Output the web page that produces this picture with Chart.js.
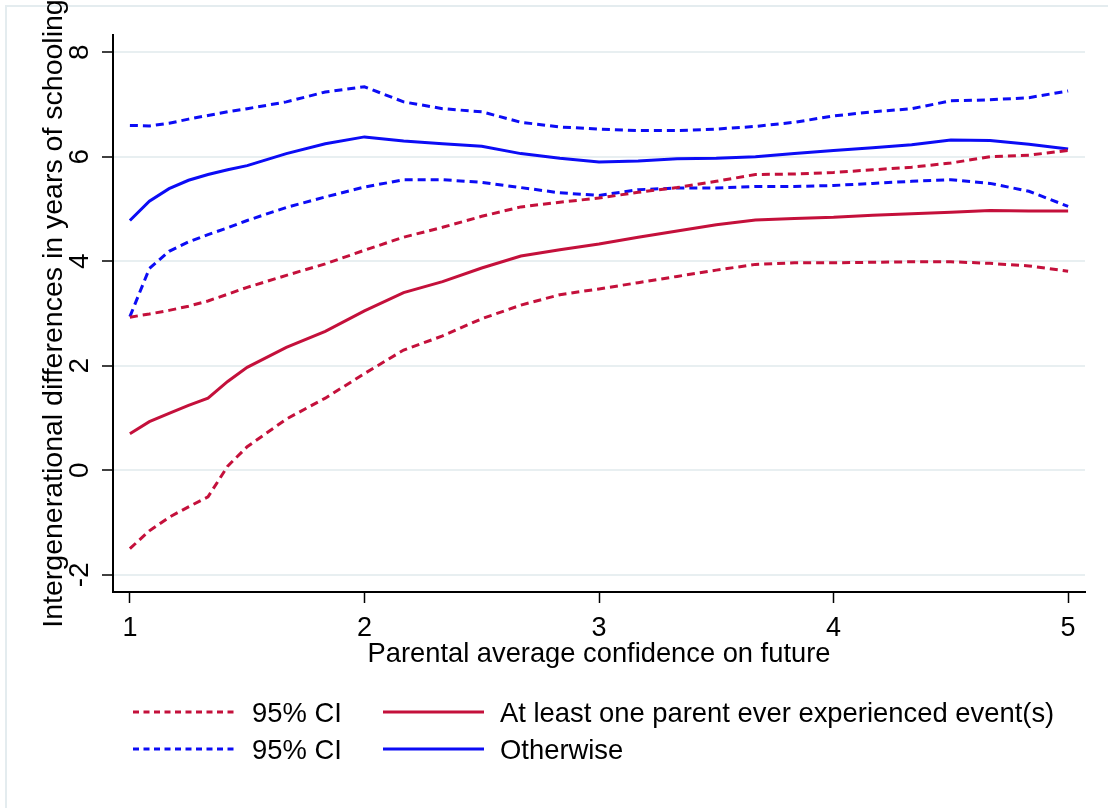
<!DOCTYPE html>
<html>
<head>
<meta charset="utf-8">
<script src="https://cdn.jsdelivr.net/npm/chart.js@4.4.0/dist/chart.umd.min.js"></script>
<style>
  html, body { margin: 0; padding: 0; background: #fff; }
  #wrap { width: 1108px; height: 808px; }
</style>
</head>
<body>
<div id="wrap"><canvas id="chart" width="1108" height="808"></canvas></div>
<script>
// parental average confidence (x values of the smoothed curves)
const confidence = [1, 1.083, 1.167, 1.25, 1.333, 1.417, 1.5, 1.667, 1.833, 2, 2.167, 2.333, 2.5, 2.667,
  2.833, 3, 3.167, 3.333, 3.5, 3.667, 3.833, 4, 4.167, 4.333, 4.5, 4.667, 4.833, 5];

// at least one parent ever experienced event(s)
const eventMid = [0.70, 0.93, 1.09, 1.24, 1.38, 1.70, 1.97, 2.35, 2.66, 3.05, 3.40, 3.61, 3.87, 4.10,
  4.22, 4.33, 4.46, 4.58, 4.70, 4.79, 4.82, 4.84, 4.88, 4.91, 4.94, 4.97, 4.96, 4.96];
const eventLow = [-1.50, -1.16, -0.90, -0.70, -0.51, 0.08, 0.45, 0.98, 1.38, 1.85, 2.30, 2.57, 2.90, 3.16,
  3.36, 3.47, 3.59, 3.71, 3.83, 3.94, 3.97, 3.97, 3.98, 3.99, 3.99, 3.96, 3.91, 3.81];
const eventHigh = [2.93, 2.99, 3.06, 3.14, 3.24, 3.37, 3.50, 3.73, 3.95, 4.21, 4.46, 4.65, 4.86, 5.04,
  5.13, 5.21, 5.32, 5.41, 5.53, 5.66, 5.67, 5.70, 5.75, 5.80, 5.88, 6.00, 6.03, 6.12];

// otherwise
const otherMid = [4.78, 5.15, 5.39, 5.55, 5.66, 5.75, 5.83, 6.06, 6.25, 6.38, 6.30, 6.25, 6.20, 6.06,
  5.97, 5.90, 5.92, 5.96, 5.97, 6.00, 6.06, 6.12, 6.17, 6.23, 6.32, 6.31, 6.24, 6.15];
const otherLow = [2.94, 3.86, 4.19, 4.37, 4.51, 4.64, 4.78, 5.03, 5.23, 5.42, 5.56, 5.56, 5.51, 5.41,
  5.31, 5.26, 5.37, 5.40, 5.40, 5.43, 5.43, 5.45, 5.49, 5.53, 5.56, 5.49, 5.34, 5.05];
const otherHigh = [6.60, 6.59, 6.64, 6.72, 6.79, 6.86, 6.92, 7.05, 7.24, 7.34, 7.05, 6.92, 6.86, 6.66,
  6.57, 6.53, 6.50, 6.50, 6.53, 6.58, 6.66, 6.78, 6.86, 6.92, 7.07, 7.09, 7.13, 7.26];

const xTicks = [1, 2, 3, 4, 5];
const yTicks = [-2, 0, 2, 4, 6, 8];
const xTitle = 'Parental average confidence on future';
const yTitle = 'Intergenerational differences in years of schooling';
const legendLabels = ['95% CI', 'At least one parent ever experienced event(s)', '95% CI', 'Otherwise'];

const red = '#c4103b';
const blue = '#0c0cf5';
const FONT = '"Liberation Sans", Arial, sans-serif';

const toPoints = vals => vals.map((v, i) => ({ x: confidence[i], y: v }));

const dashed = (label, vals, color) => ({
  label: label, data: toPoints(vals), borderColor: color,
  borderWidth: 3, borderDash: [8, 5], pointRadius: 0, tension: 0
});
const solid = (label, vals, color) => ({
  label: label, data: toPoints(vals), borderColor: color,
  borderWidth: 3, pointRadius: 0, tension: 0
});

// axis labels, titles and legend drawn Stata style
const stataBits = {
  id: 'stataBits',
  beforeDraw(chart) {
    const ctx = chart.ctx;
    ctx.save();
    ctx.fillStyle = '#fff';
    ctx.fillRect(0, 0, chart.width, chart.height);
    ctx.strokeStyle = '#e4ecef';
    ctx.lineWidth = 2;
    ctx.strokeRect(6, 6, chart.width + 20, chart.height + 20);
    ctx.restore();
  },
  afterDraw(chart) {
    const ctx = chart.ctx;
    const xs = chart.scales.x, ys = chart.scales.y;
    ctx.save();
    ctx.fillStyle = '#000';
    ctx.font = '27px ' + FONT;
    ctx.textBaseline = 'alphabetic';
    ctx.textAlign = 'center';
    xTicks.forEach(v => ctx.fillText(String(v), xs.getPixelForValue(v), 636));
    ctx.font = '27.3px ' + FONT;
    ctx.fillText(xTitle, (xs.left + xs.right) / 2, 662);

    ctx.font = '28px ' + FONT;
    yTicks.forEach(v => {
      ctx.save();
      ctx.translate(88, ys.getPixelForValue(v));
      ctx.rotate(-Math.PI / 2);
      ctx.fillText(String(v), 0, 0);
      ctx.restore();
    });

    ctx.save();
    ctx.font = '28.5px ' + FONT;
    ctx.translate(62, (ys.top + ys.bottom) / 2);
    ctx.rotate(-Math.PI / 2);
    ctx.fillText(yTitle, 0, 0);
    ctx.restore();

    // legend, 2 x 2
    const ds = chart.data.datasets;
    const entries = [ds[1], ds[0], ds[4], ds[3]];
    const cols = [{ x0: 133, x1: 236, tx: 252 }, { x0: 383, x1: 484, tx: 500 }];
    const rows = [712, 749];
    ctx.font = '27.4px ' + FONT;
    ctx.textAlign = 'left';
    entries.forEach((d, i) => {
      const c = cols[i % 2], y = rows[Math.floor(i / 2)];
      ctx.save();
      ctx.strokeStyle = d.borderColor;
      ctx.lineWidth = 3;
      ctx.setLineDash(d.borderDash ? [6, 4.5] : []);
      ctx.beginPath();
      ctx.moveTo(c.x0, y);
      ctx.lineTo(c.x1, y);
      ctx.stroke();
      ctx.restore();
      ctx.fillText(legendLabels[i], c.tx, y + 10);
    });
    ctx.restore();
  }
};

new Chart(document.getElementById('chart'), {
  type: 'line',
  data: {
    datasets: [
      solid(legendLabels[1], eventMid, red),
      dashed(legendLabels[0], eventLow, red),
      dashed(legendLabels[0], eventHigh, red),
      solid(legendLabels[3], otherMid, blue),
      dashed(legendLabels[2], otherLow, blue),
      dashed(legendLabels[2], otherHigh, blue)
    ]
  },
  options: {
    responsive: false,
    animation: false,
    layout: { padding: { left: 0, top: 35, right: 23, bottom: 0 } },
    plugins: { legend: { display: false }, tooltip: { enabled: false } },
    scales: {
      x: {
        type: 'linear', min: 0.928, max: 5.072,
        afterBuildTicks: s => { s.ticks = xTicks.map(v => ({ value: v })); },
        afterFit: s => { s.height = 216; },
        ticks: { display: false },
        grid: { color: 'rgba(0,0,0,0)', drawTicks: true, tickLength: 11, tickColor: '#000', tickWidth: 1.5 },
        border: { color: '#000', width: 2 }
      },
      y: {
        type: 'linear', min: -2.33, max: 8.33,
        afterBuildTicks: s => { s.ticks = yTicks.map(v => ({ value: v })); },
        afterFit: s => { s.width = 113; },
        ticks: { display: false },
        grid: { color: '#e8eff1', lineWidth: 2, drawTicks: true, tickLength: 11, tickColor: '#000', tickWidth: 1.5 },
        border: { color: '#000', width: 2 }
      }
    }
  },
  plugins: [stataBits]
});
</script>
</body>
</html>
